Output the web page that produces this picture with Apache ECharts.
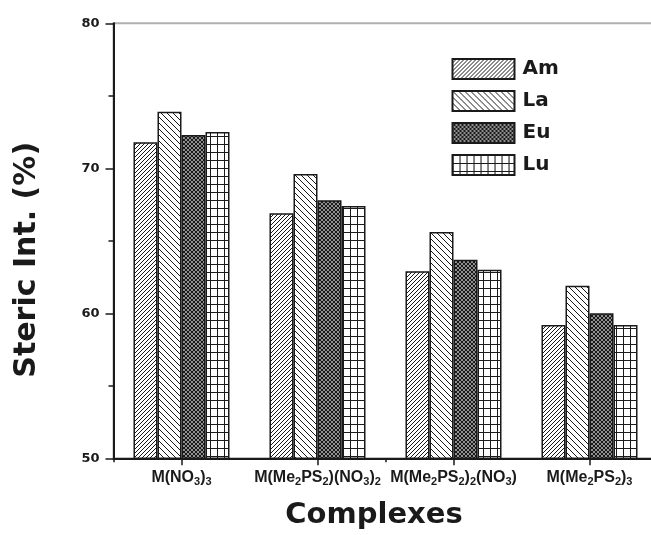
<!DOCTYPE html>
<html>
<head>
<meta charset="utf-8">
<script src="https://cdn.jsdelivr.net/npm/echarts@6/dist/echarts.min.js"></script>
<style>
  html, body { margin: 0; padding: 0; background: #fff; }
  #main { width: 651px; height: 535px; }
</style>
</head>
<body>
<div id="main"></div>
<script>
// categories (rich text, {s|..} = subscript)
var categories = [
    'M(NO{s|3}){s|3}',
    'M(Me{s|2}PS{s|2})(NO{s|3}){s|2}',
    'M(Me{s|2}PS{s|2}){s|2}(NO{s|3})',
    'M(Me{s|2}PS{s|2}){s|3}'
];
var seriesNames = ['Am', 'La', 'Eu', 'Lu'];
var amData = [71.8, 66.9, 62.9, 59.2];
var laData = [73.9, 69.6, 65.6, 61.9];
var euData = [72.3, 67.8, 63.7, 60.0];
var luData = [72.5, 67.4, 63.0, 59.2];
var yTicks = [50, 60, 70, 80];

// hatch patterns drawn on small canvases
function makeTile(w, h, draw) {
    var c = document.createElement('canvas');
    c.width = w; c.height = h;
    var ctx = c.getContext('2d');
    ctx.fillStyle = '#fff';
    ctx.fillRect(0, 0, w, h);
    ctx.strokeStyle = '#1a1a1a';
    draw(ctx, w, h);
    return { image: c, repeat: 'repeat' };
}
function diag(ctx, s, up) {
    ctx.beginPath();
    for (var k = -1; k <= 1; k++) {
        if (up) {
            ctx.moveTo(k * s, s); ctx.lineTo(k * s + s, 0);
        } else {
            ctx.moveTo(k * s, 0); ctx.lineTo(k * s + s, s);
        }
    }
    ctx.stroke();
}
var patAm = makeTile(4, 4, function (ctx, w) { ctx.lineWidth = 1; diag(ctx, w, true); });
var patLa = makeTile(6, 6, function (ctx, w) { ctx.lineWidth = 1; diag(ctx, w, false); });
var patEu = makeTile(4, 4, function (ctx, w) { ctx.lineWidth = 1.4; diag(ctx, w, true); diag(ctx, w, false); });
var patLu = makeTile(7, 8, function (ctx, w, h) {
    ctx.lineWidth = 1;
    ctx.beginPath();
    ctx.moveTo(0.5, 0); ctx.lineTo(0.5, h);
    ctx.moveTo(0, 0.5); ctx.lineTo(w, 0.5);
    ctx.stroke();
});
var patterns = [patAm, patLa, patEu, patLu];
var allData = [amData, laData, euData, luData];

var chart = echarts.init(document.getElementById('main'));

var series = [];
for (var i = 0; i < seriesNames.length; i++) {
    series.push({
        name: seriesNames[i],
        type: 'bar',
        data: allData[i],
        barGap: '0%',
        barCategoryGap: '29.4%',
        itemStyle: {
            color: patterns[i],
            borderColor: '#1a1a1a',
            borderWidth: 1.5
        },
        emphasis: { disabled: true }
    });
}

var option = {
    animation: false,
    backgroundColor: '#fff',
    grid: {
        left: 113.5,
        top: 23.3,
        bottom: 76.7,
        width: 544,
        containLabel: false,
        outerBoundsMode: 'none',
        show: true,
        borderColor: '#b0b0b0',
        borderWidth: 2
    },
    legend: {
        orient: 'vertical',
        left: 451.5,
        top: 58,
        padding: 0,
        itemWidth: 62,
        itemHeight: 20,
        itemGap: 10,
        icon: 'rect',
        data: seriesNames,
        textStyle: {
            fontFamily: 'DejaVu Sans',
            fontWeight: 'bold',
            fontSize: 20,
            color: '#1a1a1a',
            padding: [0, 0, 0, 3]
        }
    },
    xAxis: [{
        type: 'category',
        position: 'bottom',
        data: categories,
        name: 'Complexes',
        nameLocation: 'middle',
        nameGap: 43,
        nameTextStyle: {
            fontFamily: 'DejaVu Sans',
            fontWeight: 'bold',
            fontSize: 29,
            color: '#1a1a1a',
            padding: [0, 23, 0, 0]
        },
        axisLine: { lineStyle: { color: '#1a1a1a', width: 2 } },
        axisTick: { show: true, alignWithLabel: true, length: 7, lineStyle: { color: '#1a1a1a', width: 1.5 } },
        axisLabel: {
            margin: 10,
            fontFamily: 'Liberation Sans',
            fontWeight: 'bold',
            fontSize: 16,
            lineHeight: 19,
            color: '#1a1a1a',
            interval: 0,
            rich: {
                s: {
                    fontFamily: 'Liberation Sans',
                    fontWeight: 'bold',
                    fontSize: 11,
                    lineHeight: 7,
                    verticalAlign: 'bottom',
                    color: '#1a1a1a'
                }
            }
        },
        splitLine: { show: false }
    }, {
        // short ticks between categories
        type: 'category',
        position: 'bottom',
        data: categories,
        axisLine: { show: false },
        axisLabel: { show: false },
        axisTick: { show: true, length: 4, lineStyle: { color: '#1a1a1a', width: 1.5 } },
        splitLine: { show: false }
    }],
    yAxis: {
        type: 'value',
        min: yTicks[0],
        max: yTicks[yTicks.length - 1],
        interval: 10,
        name: 'Steric Int. (%)',
        nameLocation: 'middle',
        nameGap: 71,
        nameTextStyle: {
            fontFamily: 'DejaVu Sans',
            fontWeight: 'bold',
            fontSize: 30,
            color: '#1a1a1a',
            padding: [0, 38, 0, 0]
        },
        axisLine: { show: true, lineStyle: { color: '#1a1a1a', width: 2 } },
        axisTick: { show: true, length: 8, lineStyle: { color: '#1a1a1a', width: 1.5 } },
        minorTick: { show: true, splitNumber: 2, length: 5, lineStyle: { color: '#1a1a1a', width: 1.5 } },
        axisLabel: {
            margin: 14,
            fontFamily: 'DejaVu Sans',
            fontWeight: 'bold',
            fontSize: 13,
            color: '#1a1a1a'
        },
        splitLine: { show: false }
    },
    series: series
};

chart.setOption(option);
</script>
</body>
</html>
